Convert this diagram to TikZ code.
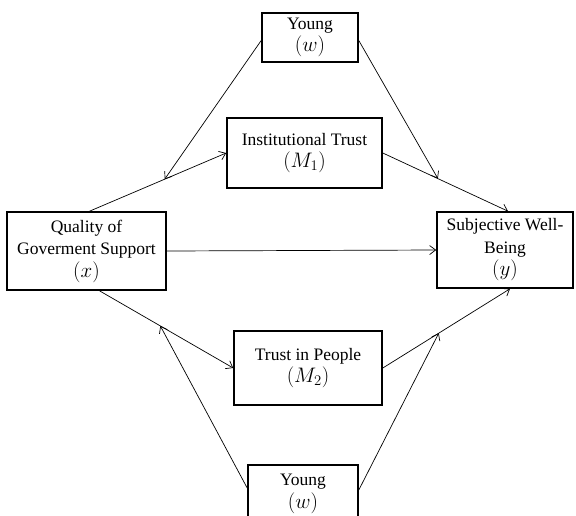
\RequirePackage{fix-cm}
\documentclass[tikz,border=0pt]{standalone}
\usepackage{fontspec}
\setmainfont{Liberation Serif}
\usetikzlibrary{arrows.meta,calc}
\newcommand\mvar[1]{{\fontsize{21}{22.5}\selectfont$#1$}}
\begin{document}
\begin{tikzpicture}[x=1pt,y=-1pt,
  box/.style={draw, line width=1.6pt, align=center, inner sep=0pt,
    font=\fontsize{17.5}{22.5}\selectfont},
  link/.style={line width=0.7pt, -{Straight Barb[length=6pt,width=9pt]}}]
\useasboundingbox (0,0) rectangle (576,515);
\node[box, minimum width=96pt, minimum height=49pt] (yt) at (310,37.5) {Young\\\mvar{(w)}};
\node[box, minimum width=155pt, minimum height=70pt] (it) at (304.5,153) {Institutional Trust\\\mvar{(M_1)}};
\node[box, minimum width=159pt, minimum height=78pt] (q) at (86.5,251) {Quality of\\Goverment Support\\\mvar{(x)}};
\node[box, minimum width=136pt, minimum height=76pt] (s) at (505,250) {Subjective Well-\\Being\\\mvar{(y)}};
\node[box, minimum width=148pt, minimum height=74pt] (tp) at (308,368) {Trust in People\\\mvar{(M_2)}};
\node[box, minimum width=110pt, minimum height=58pt, anchor=north] (yb) at (303,464) {Young\\\mvar{(w)}};
\coordinate (qa) at ([xshift=3pt]q.north);
\coordinate (qb) at ([xshift=13pt]q.south);
\coordinate (sa) at ([xshift=3pt]s.north);
\coordinate (sb) at ([xshift=5pt]s.south);
\coordinate (m1) at ($(qa)!0.55!(it.west)$);
\coordinate (m2) at ($(it.east)!0.44!(sa)$);
\coordinate (m3) at ($(qb)!0.455!(tp.west)$);
\coordinate (m4) at ($(tp.east)!0.44!(sb)$);
\draw[link] (qa) -- (it.west);
\draw[link] (it.east) -- (sa);
\draw[link] (q.east) -- (s.west);
\draw[link] (qb) -- (tp.west);
\draw[link] (tp.east) -- (sb);
\draw[link] ([yshift=-3pt]yt.west) -- (m1);
\draw[link] ([yshift=-3pt]yt.east) -- (m2);
\draw[link] ([yshift=-24pt]yb.north west) -- (m3);
\draw[link] ([yshift=-26pt]yb.north east) -- (m4);
\end{tikzpicture}
\end{document}
